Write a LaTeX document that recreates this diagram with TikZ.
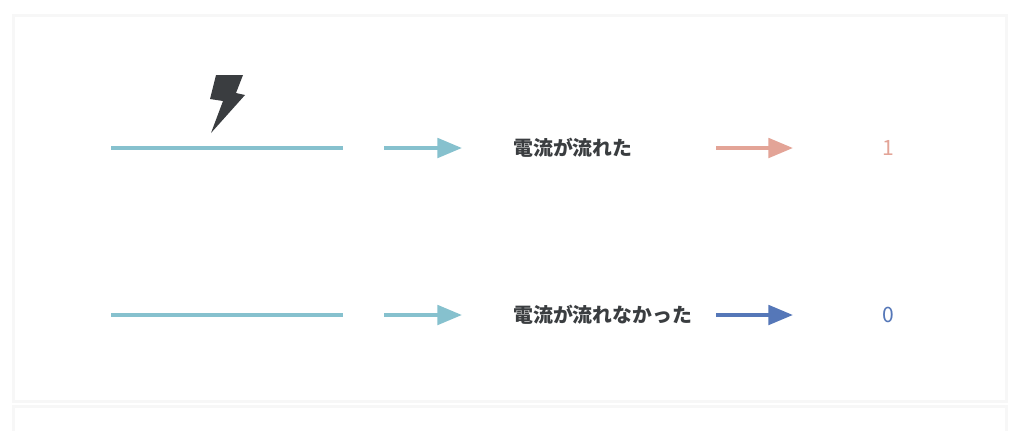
\documentclass[tikz,border=0pt]{standalone}
\usepackage{fontspec}
\newfontfamily\cjk{Noto Sans CJK JP}
\usetikzlibrary{arrows.meta}
\definecolor{teal}{HTML}{86C1CE}
\definecolor{salmon}{HTML}{E3A497}
\definecolor{navy}{HTML}{5577B8}
\definecolor{ink}{HTML}{3A3D40}
\begin{document}
\begin{tikzpicture}[x=0.02cm,y=-0.02cm,
  wire/.style={teal,line width=4*0.567pt},
  arr/.style={line width=4*0.567pt,-{Triangle[length=14pt,width=11pt]}},
  lbl/.style={font=\cjk\bfseries\fontsize{11.3}{13}\selectfont,text=ink,anchor=west,inner sep=0},
  num/.style={font=\cjk\fontsize{12}{14}\selectfont,inner sep=0}]
\useasboundingbox (0,0) rectangle (1024,430);
\fill[white] (0,0) rectangle (1024,430);
\fill[black!3] (12,14) rectangle (1008,403);
\fill[white] (15,17) rectangle (1005,400);
\fill[black!3] (12,405) rectangle (1008,432);
\fill[white] (15,408) rectangle (1005,432);
% lightning
\fill[ink] (216,75) -- (243,75) -- (236,93) -- (245,95) -- (211,133) -- (223,101) -- (210,99) -- cycle;
% top row
\coordinate (w1a) at (111,148); \coordinate (w1b) at (343,148);
\draw[wire] (w1a) -- (w1b);
\coordinate (a1a) at (384,148); \coordinate (a1b) at (462,148);
\draw[arr,teal] (a1a) -- (a1b);
\node[lbl] (t1) at (513,148) {電流が流れた};
\coordinate (b1a) at (716,148); \coordinate (b1b) at (793,148);
\draw[arr,salmon] (b1a) -- (b1b);
\node[num,text=salmon] (n1) at (888,148) {1};
% bottom row
\coordinate (w2a) at (111,315); \coordinate (w2b) at (343,315);
\draw[wire] (w2a) -- (w2b);
\coordinate (a2a) at (384,315); \coordinate (a2b) at (462,315);
\draw[arr,teal] (a2a) -- (a2b);
\node[lbl] (t2) at (513,315) {電流が流れなかった};
\coordinate (b2a) at (716,315); \coordinate (b2b) at (793,315);
\draw[arr,navy] (b2a) -- (b2b);
\node[num,text=navy] (n2) at (888,315) {0};
\end{tikzpicture}
\end{document}
